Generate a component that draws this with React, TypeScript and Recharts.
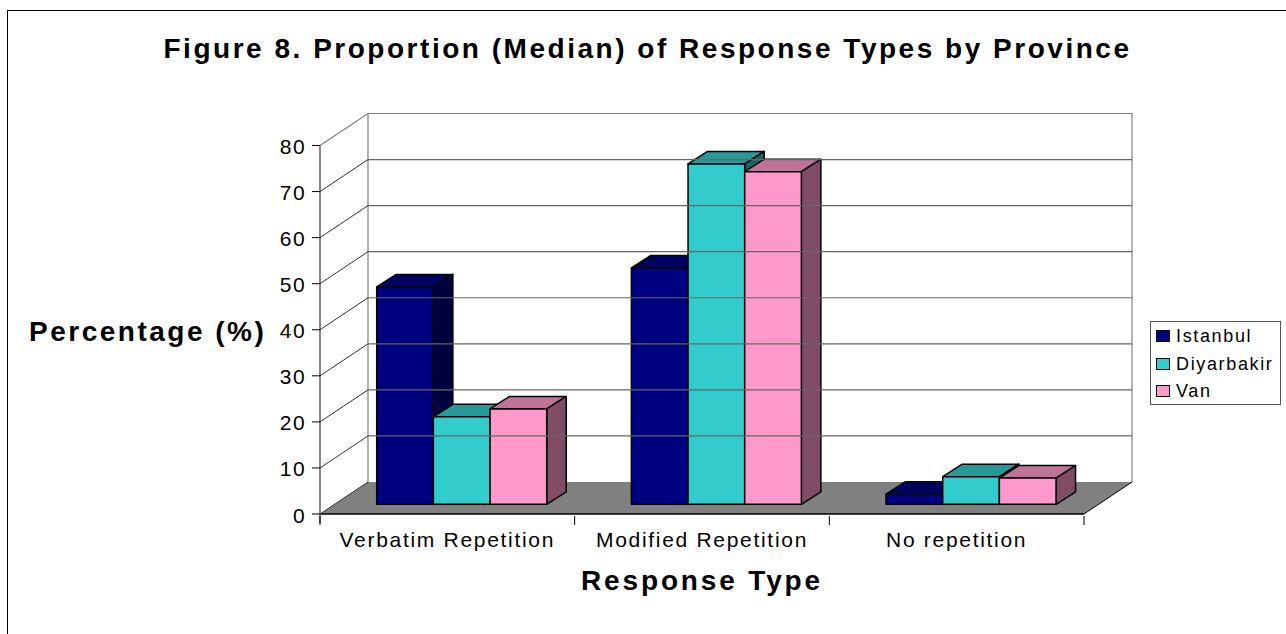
import React from 'react';
import { ComposedChart, Bar, XAxis, YAxis, ReferenceLine, ReferenceArea, Legend } from 'recharts';

const categories = ['Verbatim Repetition', 'Modified Repetition', 'No repetition'];
const istanbul = [47.2, 51.3, 2.2];
const diyarbakir = [19.0, 73.9, 6.0];
const van = [20.7, 72.2, 5.7];
const yTicks = [0, 10, 20, 30, 40, 50, 60, 70, 80];
const gridTicks = [10, 20, 30, 40, 50, 60, 70];
const seriesNames = ['Istanbul', 'Diyarbakir', 'Van'];
const seriesColors = ['#000080', '#33CCCC', '#FF99CC'];
const topColors = ['#000060', '#269999', '#BF7399'];
const sideColors = ['#000040', '#1A6666', '#804D66'];

const rows = categories.map((name, i) => ({ name, Istanbul: istanbul[i], Diyarbakir: diyarbakir[i], Van: van[i] }));

const WALL_DX = 48;
const WALL_DY = -32;
const BAR_DX = 14.7;
const BAR_DY = -9.7;
const DEPTH_DX = 19.5;
const DEPTH_DY = -12.5;
const PLOT_WIDTH = 764;

const font = 'Liberation Sans, Arial, sans-serif';

function Bar3D(props: any) {
  const { x, y, width, height, fill, idx } = props;
  const l = x + BAR_DX;
  const t = y + BAR_DY;
  const r = l + width;
  const b = t + height;
  const stroke = { stroke: '#000', strokeWidth: 1.5, strokeLinejoin: 'round' as const };
  return (
    <g>
      <path d={`M${l} ${t}L${l + DEPTH_DX} ${t + DEPTH_DY}L${r + DEPTH_DX} ${t + DEPTH_DY}L${r} ${t}Z`} fill={topColors[idx]} {...stroke} />
      <path d={`M${r} ${t}L${r + DEPTH_DX} ${t + DEPTH_DY}L${r + DEPTH_DX} ${b + DEPTH_DY}L${r} ${b}Z`} fill={sideColors[idx]} {...stroke} />
      <rect x={l} y={t} width={width} height={height} fill={fill} {...stroke} />
    </g>
  );
}

function Walls(props: any) {
  const { x, y, width, height } = props;
  const b = y + height;
  const r = x + width;
  return (
    <g>
      <path d={`M${x + WALL_DX} ${y + WALL_DY}L${r + WALL_DX} ${y + WALL_DY}L${r + WALL_DX} ${b + WALL_DY}`} fill="none" stroke="#808080" strokeWidth={1.2} />
      <path d={`M${x} ${y}L${x + WALL_DX} ${y + WALL_DY}L${x + WALL_DX} ${b + WALL_DY}`} fill="none" stroke="#808080" strokeWidth={1.2} />
      <path d={`M${x} ${b}L${x + WALL_DX} ${b + WALL_DY}L${r + WALL_DX} ${b + WALL_DY}L${r} ${b}Z`} fill="#808080" />
      <path d={`M${x} ${b}L${x + WALL_DX} ${b + WALL_DY}`} stroke="#333" strokeWidth={1} />
      <path d={`M${r} ${b}L${r + WALL_DX} ${b + WALL_DY}`} stroke="#000" strokeWidth={1} />
      <path d={`M${x} ${b}L${r} ${b}`} stroke="#000" strokeWidth={1.4} />
      <path d={`M${x} ${b + 9}L${x} ${y}`} stroke="#555" strokeWidth={1.4} />
    </g>
  );
}

function GridLine3D(props: any) {
  const { x1, y1, x2, y2 } = props;
  const lx1 = x1 ?? props.x;
  const ly1 = y1 ?? props.y;
  return (
    <g>
      <path d={`M${lx1} ${ly1}L${lx1 + WALL_DX} ${ly1 + WALL_DY}`} stroke="#000" strokeWidth={0.8} fill="none" />
      <path d={`M${lx1 + WALL_DX} ${ly1 + WALL_DY}L${(x2 ?? lx1) + WALL_DX} ${(y2 ?? ly1) + WALL_DY}`} stroke="#666" strokeWidth={1.2} fill="none" />
    </g>
  );
}

function BoundaryTick(props: any) {
  const { x, y, payload, index } = props;
  const half = PLOT_WIDTH / categories.length / 2;
  const top = y - 8;
  return (
    <g>
      <line x1={x - half} y1={top} x2={x - half} y2={top + 9} stroke="#000" />
      {index === categories.length - 1 && <line x1={x + half} y1={top} x2={x + half} y2={top + 9} stroke="#000" />}
      <text x={x} y={y + 23} textAnchor="middle" fontFamily={font} fontSize={21} letterSpacing={1.7} fill="#000">
        {payload.value}
      </text>
    </g>
  );
}

function YTick(props: any) {
  const { x, y, payload } = props;
  return (
    <text x={x} y={y + 8.5} textAnchor="end" fontFamily={font} fontSize={21} letterSpacing={1.4} fill="#000">
      {payload.value}
    </text>
  );
}

function LegendBox() {
  return (
    <div style={{ position: 'absolute', left: 1150, top: 321, width: 131, height: 84, boxSizing: 'border-box', border: '1px solid #555', background: '#fff', fontFamily: font, fontSize: 18, color: '#000', letterSpacing: 1.65 }}>
      {seriesNames.map((n, i) => (
        <div key={n} style={{ position: 'absolute', left: 5, top: 1 + i * 27.5, height: 27, lineHeight: '27px', whiteSpace: 'nowrap' }}>
          <span style={{ display: 'inline-block', width: 12, height: 10, background: seriesColors[i], border: '1px solid #000', marginRight: 6, verticalAlign: 'baseline' }} />
          {n}
        </div>
      ))}
    </div>
  );
}

export default function App() {
  return (
    <div style={{ position: 'absolute', left: 0, top: 0, width: 1286, height: 634, overflow: 'hidden', background: '#fff' }}>
      <div style={{ position: 'absolute', left: 7, top: 10, width: 1290, height: 640, boxSizing: 'border-box', border: '1px solid #000' }} />
      <ComposedChart
        width={1286}
        height={634}
        data={rows}
        margin={{ left: 280, top: 145.5, right: 202, bottom: 90 }}
        barSize={56.67}
        barGap={0}
        style={{ position: 'absolute', left: 0, top: 0 }}
      >
        <ReferenceArea y1={0} y2={80} shape={<Walls />} ifOverflow="visible" />
        {gridTicks.map((t) => (
          <ReferenceLine key={t} y={t} shape={<GridLine3D />} ifOverflow="visible" />
        ))}
        <XAxis dataKey="name" axisLine={false} tickLine={false} tickSize={8} height={30} interval={0} tick={<BoundaryTick />} label={{ value: 'Response Type', position: 'bottom', offset: 26, fontFamily: font, fontSize: 28, fontWeight: 700, fill: '#000', letterSpacing: 2.85 }} />
        <YAxis domain={[0, 80]} ticks={yTicks} width={40} axisLine={false} tickSize={8} tickMargin={6} tickLine={{ stroke: '#000' }} tick={<YTick />} interval={0} />
        <Bar dataKey="Istanbul" fill={seriesColors[0]} isAnimationActive={false} shape={(p: any) => <Bar3D {...p} idx={0} />} />
        <Bar dataKey="Diyarbakir" fill={seriesColors[1]} isAnimationActive={false} shape={(p: any) => <Bar3D {...p} idx={1} />} />
        <Bar dataKey="Van" fill={seriesColors[2]} isAnimationActive={false} shape={(p: any) => <Bar3D {...p} idx={2} />} />
        <Legend content={() => null} />
      </ComposedChart>
      <div style={{ position: 'absolute', left: 0, top: 33, width: 1295, textAlign: 'center', fontFamily: font, fontSize: 28, fontWeight: 700, letterSpacing: 2.52, color: '#000', whiteSpace: 'nowrap' }}>
        Figure 8. Proportion (Median) of Response Types by Province
      </div>
      <div style={{ position: 'absolute', left: 29, top: 316, fontFamily: font, fontSize: 28, fontWeight: 700, letterSpacing: 2.5, color: '#000', whiteSpace: 'nowrap' }}>
        Percentage (%)
      </div>
      <LegendBox />
    </div>
  );
}
